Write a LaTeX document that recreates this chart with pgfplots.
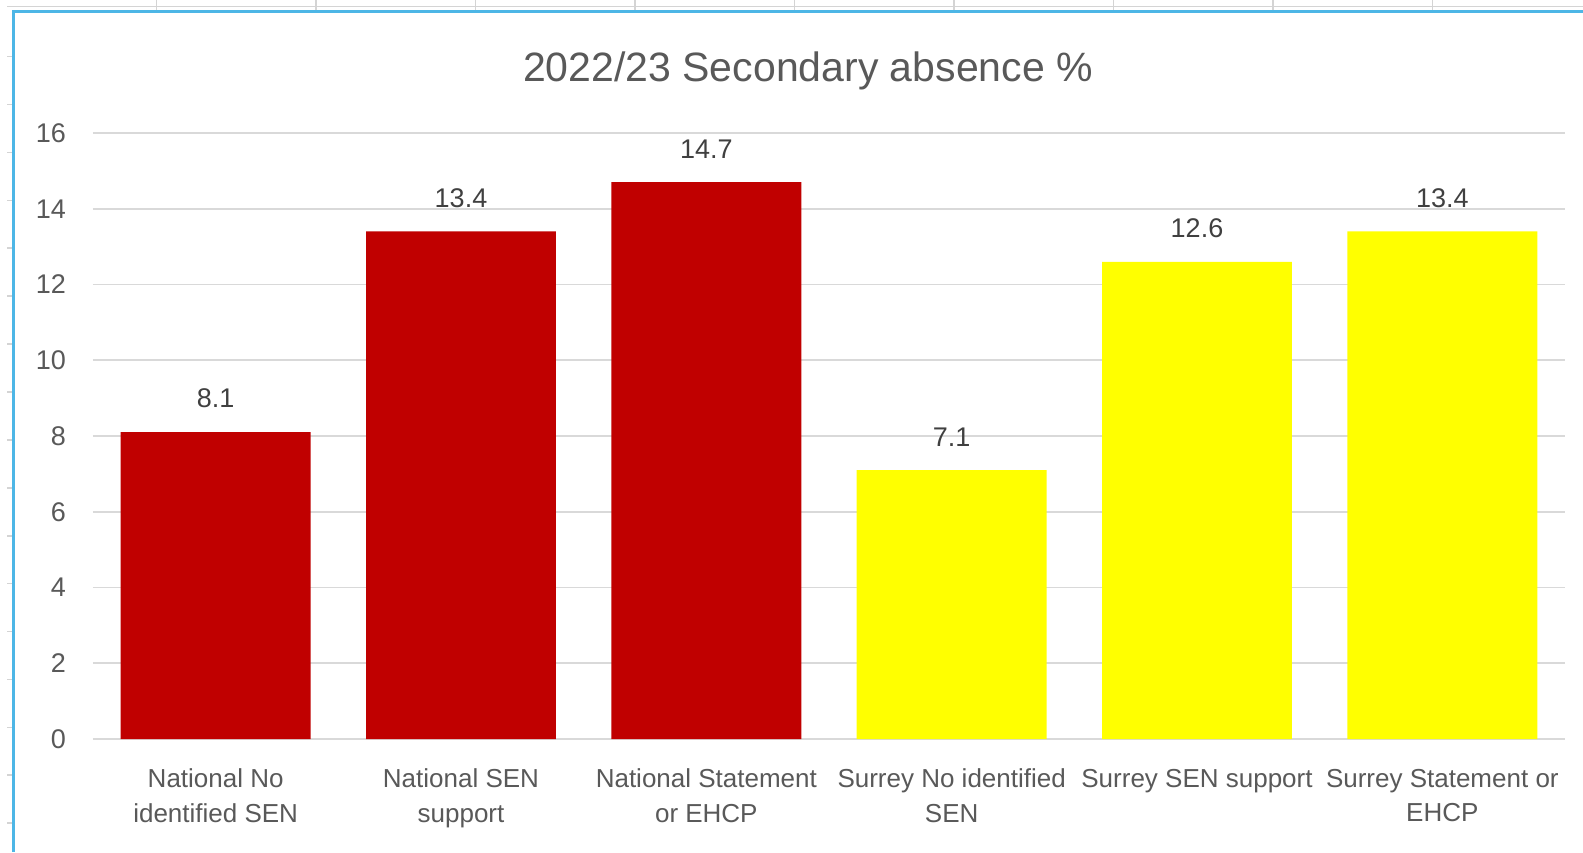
\documentclass[border=0pt]{standalone}
\usepackage{pgfplots}
\pgfplotsset{compat=1.18}
\usepackage{fontspec}
\setmainfont{Liberation Sans}
\definecolor{nat}{HTML}{C00000}
\definecolor{sur}{HTML}{FFFF00}
\definecolor{txt}{HTML}{595959}
\definecolor{lbl}{HTML}{404040}
\definecolor{grd}{HTML}{D9D9D9}
\definecolor{sheet}{HTML}{D4D4D4}
\definecolor{frame}{HTML}{4DB6E6}
\pgfplotstableread{
x y
0 8.1
1 13.4
2 14.7
}\national
\pgfplotstableread{
x y
3 7.1
4 12.6
5 13.4
}\surrey
\begin{document}
\begin{tikzpicture}
\useasboundingbox (0,0) rectangle (791.5pt,426pt);
\fill[white] (0,0) rectangle (791.5pt,426pt);
% spreadsheet background lines
\draw[sheet, line width=0.8pt] (3.5pt,422.8pt) -- (791.5pt,422.8pt);
\foreach \k in {0,...,8} {
  \draw[sheet, line width=0.8pt] ({(156.5+159.5*\k)*0.5pt},426pt) -- ({(156.5+159.5*\k)*0.5pt},420pt);
}
\foreach \k in {0,...,16} {
  \draw[sheet, line width=0.8pt] (3.5pt,{(852-56.7-47.9*\k)*0.5pt}) -- (6.8pt,{(852-56.7-47.9*\k)*0.5pt});
}
\draw[frame, line width=1.5pt] (6.85pt,0pt) -- (6.85pt,420pt) -- (791.5pt,420pt);
\node[font=\fontsize{20.5}{24}\selectfont, text=txt] at (404pt,390.5pt) {2022/23 Secondary absence \%};
\begin{axis}[
  at={(46.5pt,56.5pt)}, anchor=south west,
  scale only axis, width=736pt, height=303pt,
  ybar, bar shift=0pt, bar width=0.774,
  xmin=-0.5, xmax=5.5, ymin=0, ymax=16,
  ytick={0,2,...,16},
  xtick={0,1,2,3,4,5},
  xticklabels={National No\\identified SEN, National SEN\\support, National Statement\\or EHCP, Surrey No identified\\SEN, Surrey SEN support, Surrey Statement or\\EHCP},
  xticklabel style={align=center, font=\fontsize{13}{17.2}\selectfont, text=txt, yshift=-11.5pt},
  yticklabel style={font=\fontsize{13.5}{16}\selectfont, text=txt, xshift=-10pt},
  /pgf/number format/assume math mode=true,
  major tick length=0pt,
  axis line style={draw=none},
  ymajorgrids, grid style={grd, line width=0.8pt},
  nodes near coords,
  nodes near coords style={font=\fontsize{13.5}{16}\selectfont, text=lbl, yshift=8.5pt,
    /pgf/number format/fixed, /pgf/number format/fixed zerofill, /pgf/number format/precision=1},
  clip=false,
]
\addplot[fill=nat, draw=none] table[x=x, y=y] {\national};
\addplot[fill=sur, draw=none] table[x=x, y=y] {\surrey};
\end{axis}
\end{tikzpicture}
\end{document}
